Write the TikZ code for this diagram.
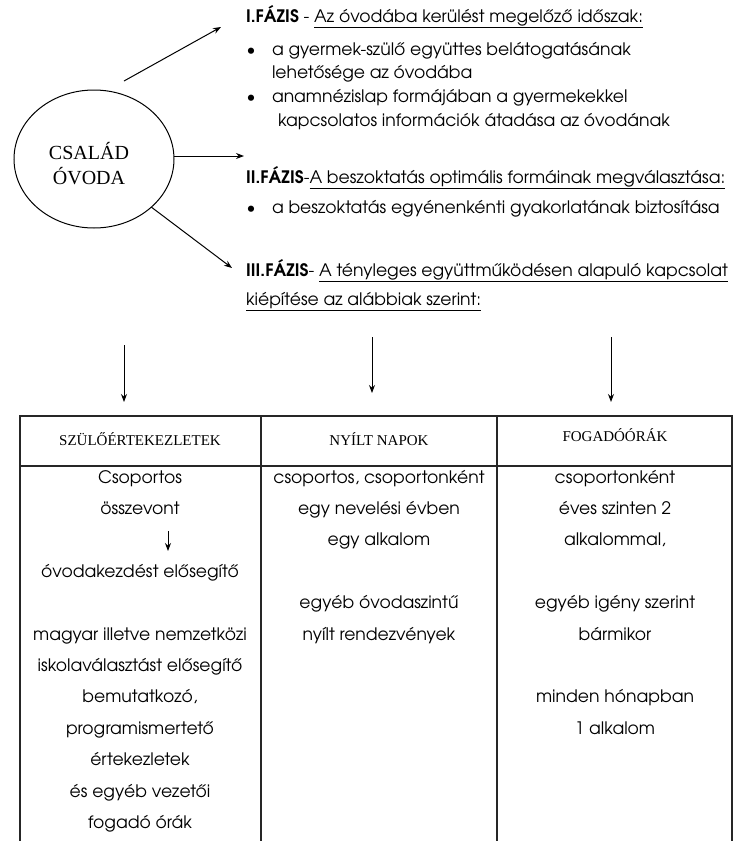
\documentclass[tikz,border=0pt]{standalone}
\usepackage{fontspec}
\setmainfont{TeX Gyre Adventor}
\newfontfamily\timesfont{Liberation Serif}
\usetikzlibrary{arrows.meta}
\usetikzlibrary{shapes.geometric}

\begin{document}
\begin{tikzpicture}[x=1pt,y=-1pt,>={Stealth[length=8pt,width=6pt]},
		line width=1pt,font=\fontsize{17.2}{20}\selectfont,
		every node/.style={inner sep=0pt,outer sep=0pt}]
		\tikzstyle{txt}=[anchor=base west]
		\tikzstyle{dot}=[anchor=base]
		\tikzstyle{cell}=[anchor=base]
		\tikzstyle{head}=[anchor=base,font=\timesfont\fontsize{15}{17}\selectfont]
		\tikzstyle{grid}=[line width=1.3pt,black!85]
		\useasboundingbox (0,0) rectangle (733,841);
		
		\node[draw,ellipse,minimum width=160,minimum height=138] (csalad) at (94,159) {};
		\node[align=center,font=\timesfont\fontsize{20}{25}\selectfont] (csaladtxt) at (89,164) {CSALÁD\\ÓVODA};
		
		\node[txt] (f1)  at (246,22)  {\textbf{I.FÁZIS} - \underline{Az óvodába kerülést megelőző időszak:}};
		\node[dot] (b1)  at (251,55)  {\textbullet};
		\node[txt] (b1a) at (272,55)  {a gyermek-szülő együttes belátogatásának};
		\node[txt] (b1b) at (272,78)  {lehetősége az óvodába};
		\node[dot] (b2)  at (251,102) {\textbullet};
		\node[txt] (b2a) at (272,102) {anamnézislap formájában a gyermekekkel};
		\node[txt] (b2b) at (278,126) {kapcsolatos információk átadása az óvodának};
		\node[txt] (f2)  at (246,183) {\textbf{II.FÁZIS}-\underline{A beszoktatás optimális formáinak megválasztása:}};
		\node[dot] (b3)  at (251,213) {\textbullet};
		\node[txt] (b3a) at (272,213) {a beszoktatás egyénenkénti gyakorlatának biztosítása};
		\node[txt] (f3)  at (246,276) {\textbf{III.FÁZIS}- \underline{A tényleges együttműködésen alapuló kapcsolat}};
		\node[txt] (f3b) at (246,305) {\underline{kiépítése az alábbiak szerint:}};
		
		\coordinate (a1s) at (124,81);
		\coordinate (a1e) at (221,27);
		\coordinate (a2e) at (244,156);
		\coordinate (a3e) at (232,268);
		\draw[->] (a1s) -- (a1e);
		\draw[->] (csalad.east |- a2e) -- (a2e);
		\draw[->] (csalad.-40) -- (a3e);
		
		% arrows down to the table
		\coordinate (v1s) at (124,345);
		\coordinate (v1e) at (124,402);
		\coordinate (v2s) at (372,337);
		\coordinate (v2e) at (372,393);
		\coordinate (v3s) at (611,337);
		\coordinate (v3e) at (611,402);
		\draw[->] (v1s) -- (v1e);
		\draw[->] (v2s) -- (v2e);
		\draw[->] (v3s) -- (v3e);
		
		% table
		\draw[grid] (20,841) -- (20,416) -- (732,416) -- (732,841);
		\draw[grid] (20,466) -- (732,466);
		\draw[grid] (261,416) -- (261,841);
		\draw[grid] (497,416) -- (497,841);
		
		\node[head] (h1) at (140,445) {SZÜLŐÉRTEKEZLETEK};
		\node[head] (h2) at (379,445) {NYÍLT NAPOK};
		\node[head] (h3) at (615,441) {FOGADÓÓRÁK};
		
		\foreach \k/\t in {0/Csoportos,1/összevont,3/óvodakezdést elősegítő,
			5/magyar illetve nemzetközi,6/iskolaválasztást elősegítő,7/{bemutatkozó,},
			8/programismertető,9/értekezletek,10/és egyéb vezetői,11/fogadó órák}
		\node[cell] (sz\k) at (140,483+31.4*\k) {\t};
		\foreach \k/\t in {0/{csoportos, csoportonként},1/egy nevelési évben,2/egy alkalom,
			4/egyéb óvodaszintű,5/nyílt rendezvények}
		\node[cell] (ny\k) at (379,483+31.4*\k) {\t};
		\foreach \k/\t in {0/csoportonként,1/éves szinten 2,2/{alkalommal,},
			4/egyéb igény szerint,5/bármikor,7/minden hónapban,8/1 alkalom}
		\node[cell] (fo\k) at (615,483+31.4*\k) {\t};
		
		\coordinate (s1s) at (168,531);
		\coordinate (s1e) at (168,551);
		\draw[->] (s1s) -- (s1e);
\end{tikzpicture}
\end{document}
